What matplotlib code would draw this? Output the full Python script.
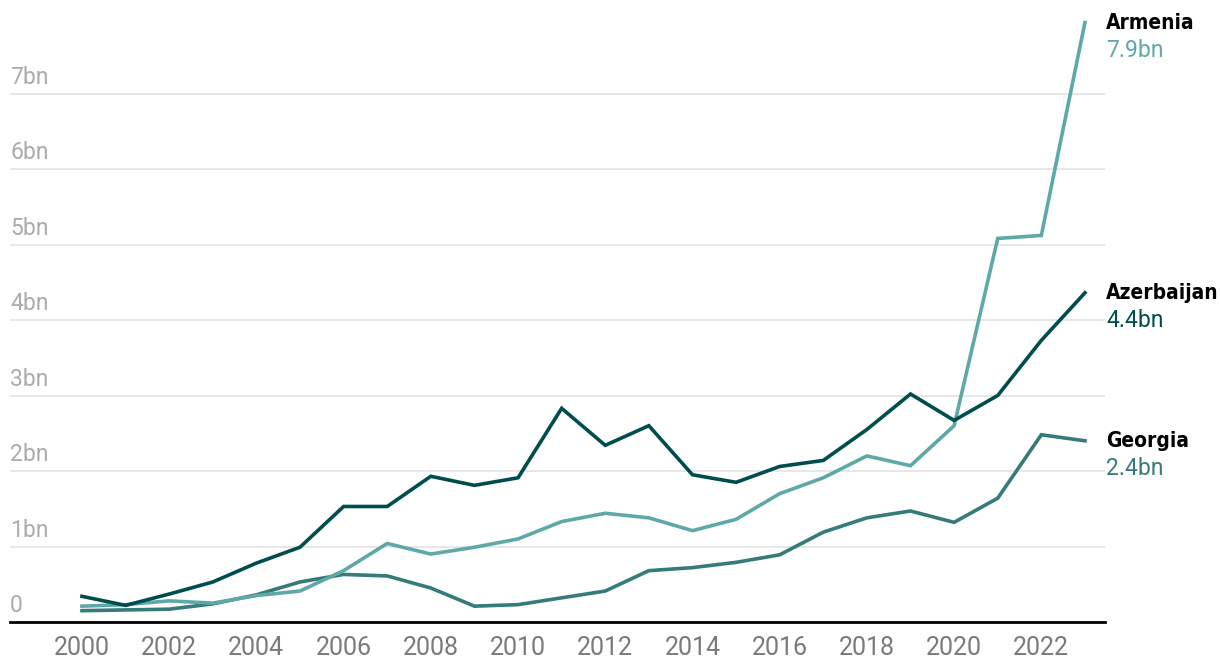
import matplotlib.pyplot as plt
import numpy as np

years = np.arange(2000, 2024)

armenia = [0.21, 0.23, 0.28, 0.25, 0.35, 0.41, 0.68, 1.04, 0.90, 0.99, 1.10, 1.33,
           1.44, 1.38, 1.21, 1.36, 1.70, 1.91, 2.20, 2.07, 2.60, 5.08, 5.12, 7.94]
azerbaijan = [0.34, 0.22, 0.37, 0.53, 0.78, 0.99, 1.53, 1.53, 1.93, 1.81, 1.91, 2.83,
              2.34, 2.60, 1.95, 1.85, 2.06, 2.14, 2.55, 3.02, 2.67, 3.00, 3.73, 4.36]
georgia = [0.15, 0.16, 0.17, 0.24, 0.36, 0.53, 0.63, 0.61, 0.45, 0.21, 0.23, 0.32,
           0.41, 0.68, 0.72, 0.79, 0.89, 1.19, 1.38, 1.47, 1.32, 1.64, 2.48, 2.40]

names = ["Armenia", "Azerbaijan", "Georgia"]
end_labels = ["7.9bn", "4.4bn", "2.4bn"]
colors = ["#5ea9a7", "#004d4d", "#347b79"]

y_ticks = [0, 1, 2, 3, 4, 5, 6, 7]
y_tick_labels = ["0", "1bn", "2bn", "3bn", "4bn", "5bn", "6bn", "7bn"]
x_ticks = list(range(2000, 2023, 2))

plt.rcParams['font.family'] = ['Roboto', 'DejaVu Sans']

fig = plt.figure(figsize=(12.2, 6.72), dpi=100)
ax = fig.add_axes([10 / 1220, 50 / 672, 1095 / 1220, 622 / 672])

# order so dark line sits on top
for series, color in [(georgia, colors[2]), (armenia, colors[0]), (azerbaijan, colors[1])]:
    ax.plot(years, series, color=color, lw=2.6, solid_joinstyle='miter', zorder=3)

ax.set_xlim(1998.35, 2023.46)
ax.set_ylim(0, 622 / 75.5)

for v in y_ticks[1:]:
    ax.axhline(v, color="#e3e3e3", lw=1.2, zorder=1)
for v, lab in zip(y_ticks, y_tick_labels):
    ax.text(0.0, v + 0.06, lab, transform=ax.get_yaxis_transform(), ha='left', va='bottom',
            fontsize=16.5, color="#ababab")

ax.set_yticks([])
ax.set_xticks(x_ticks)
ax.set_xticklabels([str(x) for x in x_ticks], fontsize=18, color="#7a7a7a")
ax.tick_params(axis='x', length=0, pad=10)

for s in ['top', 'right', 'left']:
    ax.spines[s].set_visible(False)
ax.spines['bottom'].set_color('black')
ax.spines['bottom'].set_linewidth(2)
ax.spines['bottom'].set_zorder(4)

for series, name, lab, color in zip([armenia, azerbaijan, georgia], names, end_labels, colors):
    ax.annotate(name, (years[-1], series[-1]), xytext=(21, 0), textcoords='offset pixels',
                ha='left', va='center', fontsize=15, fontweight='bold', color='black',
                family='DejaVu Sans', fontstretch='condensed', annotation_clip=False)
    ax.annotate(lab, (years[-1], series[-1]), xytext=(21, -28), textcoords='offset pixels',
                ha='left', va='center', fontsize=16.5, color=color, annotation_clip=False)

fig.savefig("out.png", dpi=100)
